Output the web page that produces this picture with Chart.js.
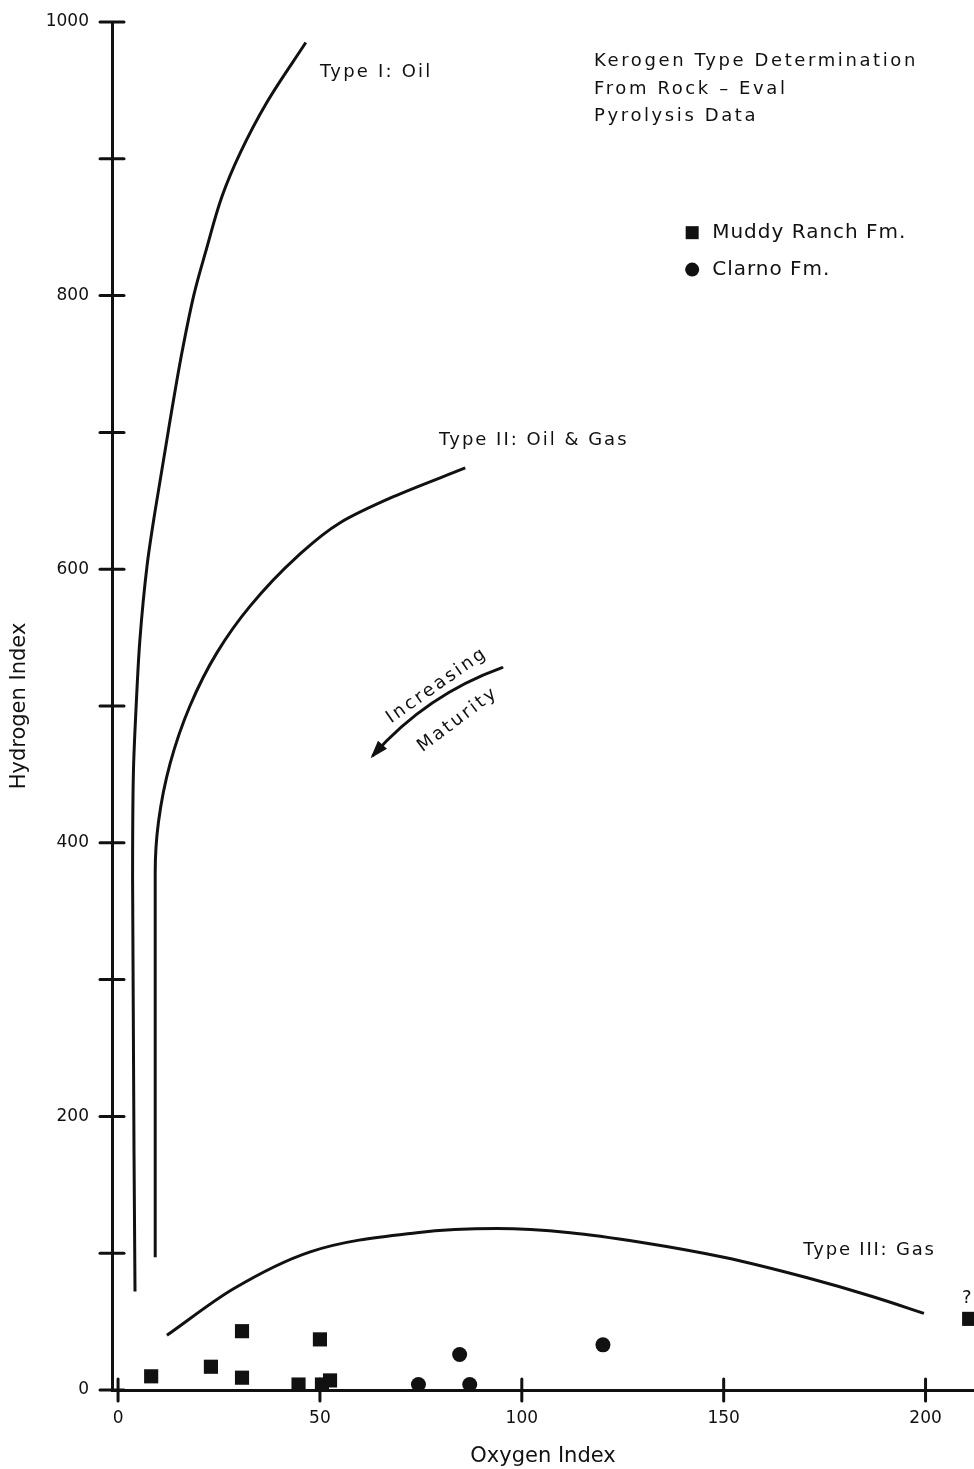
<!DOCTYPE html>
<html>
<head>
<meta charset="utf-8">
<title>Kerogen Type Determination</title>
<script src="https://cdn.jsdelivr.net/npm/chart.js@4.4.1/dist/chart.umd.min.js"></script>
<style>
  html, body { margin: 0; padding: 0; background: #fff; overflow: hidden; }
  #wrap { width: 974px; height: 1469px; position: relative; }
</style>
</head>
<body>
<div id="wrap"><canvas id="kerogenChart"></canvas></div>
<script>
// Muddy Ranch Fm. samples (oxygen index, hydrogen index)
const muddyOI = [8.2, 23.0, 30.7, 30.7, 44.7, 50.0, 50.5, 52.5, 210.8];
const muddyHI = [10, 17, 43, 9, 4, 37, 4, 7, 52];

// Clarno Fm. samples
const clarnoOI = [74.4, 84.6, 87.1, 120.1];
const clarnoHI = [4, 26, 4, 33];

// kerogen type boundary curves
const type1OI = [46.5, 36.8, 30.2, 25.8, 21.6, 18.9, 15.8, 12.5, 9.2, 7.2, 5.4, 4.5, 3.8, 3.6, 4.2];
const type1HI = [985, 941, 904, 873, 831, 802, 758, 702, 643, 603, 548, 501, 451, 373, 72];
const type2OI = [86.0, 68.2, 55.0, 44.3, 32.7, 24.5, 17.8, 12.9, 10.0, 9.2, 9.2];
const type2HI = [674, 653, 634, 609, 573, 539, 500, 458, 415, 378, 97];
const type3OI = [12.1, 28.6, 47.6, 74.0, 93.9, 112, 129.4, 150, 170.7, 187.2, 199.6];
const type3HI = [40, 74, 101, 115, 118, 115, 108, 97, 82, 68, 56];

// axis ticks
const xTicks = [0, 50, 100, 150, 200];
const yTicks = [0, 100, 200, 300, 400, 500, 600, 700, 800, 900, 1000];

const INK = '#111';
const FONT = "'DejaVu Sans', sans-serif";

const toPoints = (xs, ys) => xs.map((v, i) => ({ x: v, y: ys[i] }));

// boundary curve; the two steep ones are interpolated along the y axis
function curve(label, xs, ys, alongY) {
  const ds = {
    label: label,
    data: toPoints(xs, ys),
    showLine: true,
    borderColor: INK,
    borderWidth: 3,
    pointRadius: 0,
    fill: false,
    cubicInterpolationMode: 'monotone'
  };
  if (alongY) ds.indexAxis = 'y';
  return ds;
}

// text notes placed in data units
const notes = [
  { text: 'Type I: Oil', x: 50.0, y: 963, size: 18, spacing: 2.2 },
  { text: 'Kerogen Type Determination', x: 117.9, y: 971, size: 18, spacing: 2.6 },
  { text: 'From Rock \u2013 Eval', x: 117.9, y: 951, size: 18, spacing: 2.6 },
  { text: 'Pyrolysis Data', x: 117.9, y: 931, size: 18, spacing: 2.6 },
  { text: 'Type II: Oil & Gas', x: 79.5, y: 694, size: 18, spacing: 2.0 },
  { text: 'Type III: Gas', x: 169.7, y: 102, size: 18, spacing: 1.8 },
  { text: '?', x: 209.0, y: 67, size: 18, spacing: 0 }
];

const notesPlugin = {
  id: 'kerogenNotes',
  afterDraw(chart) {
    const { ctx, scales: { x, y }, chartArea } = chart;
    ctx.save();
    ctx.fillStyle = INK;
    ctx.strokeStyle = INK;

    // tick marks crossing the axes
    ctx.lineWidth = 3;
    ctx.lineCap = 'round';
    yTicks.forEach(v => {
      const py = y.getPixelForValue(v);
      ctx.beginPath();
      ctx.moveTo(chartArea.left - 12, py);
      ctx.lineTo(chartArea.left + 12, py);
      ctx.stroke();
    });
    xTicks.forEach(v => {
      const px = x.getPixelForValue(v);
      ctx.beginPath();
      ctx.moveTo(px, chartArea.bottom - 11);
      ctx.lineTo(px, chartArea.bottom + 11);
      ctx.stroke();
    });

    // labels
    ctx.textBaseline = 'middle';
    ctx.textAlign = 'left';
    notes.forEach(n => {
      ctx.font = n.size + 'px ' + FONT;
      ctx.letterSpacing = n.spacing + 'px';
      ctx.fillText(n.text, x.getPixelForValue(n.x), y.getPixelForValue(n.y));
    });

    // legend
    ctx.letterSpacing = '1px';
    ctx.font = '20px ' + FONT;
    const lx = x.getPixelForValue(142.2);
    const ly1 = y.getPixelForValue(846);
    const ly2 = y.getPixelForValue(819);
    ctx.fillRect(lx - 6.5, ly1 - 6.5, 13, 13);
    ctx.beginPath();
    ctx.arc(lx, ly2, 7, 0, Math.PI * 2);
    ctx.fill();
    ctx.fillText('Muddy Ranch Fm.', lx + 20, ly1);
    ctx.fillText('Clarno Fm.', lx + 20, ly2);

    // maturity arrow
    const p0 = { x: x.getPixelForValue(95.1), y: y.getPixelForValue(528) };
    const p1 = { x: x.getPixelForValue(63.2), y: y.getPixelForValue(464) };
    const dx = p1.x - p0.x, dy = p1.y - p0.y;
    const len = Math.hypot(dx, dy);
    const c = { x: (p0.x + p1.x) / 2 + 20 * (-dy / len), y: (p0.y + p1.y) / 2 + 20 * (dx / len) };
    if (c.y > (p0.y + p1.y) / 2) { c.x = (p0.x + p1.x) - c.x; c.y = (p0.y + p1.y) - c.y; }
    ctx.lineWidth = 3;
    ctx.beginPath();
    ctx.moveTo(p0.x, p0.y);
    ctx.quadraticCurveTo(c.x, c.y, p1.x, p1.y);
    ctx.stroke();
    const ang = Math.atan2(p1.y - c.y, p1.x - c.x);
    ctx.beginPath();
    ctx.moveTo(p1.x + 4 * Math.cos(ang), p1.y + 4 * Math.sin(ang));
    ctx.lineTo(p1.x - 14 * Math.cos(ang) + 6 * Math.sin(ang), p1.y - 14 * Math.sin(ang) - 6 * Math.cos(ang));
    ctx.lineTo(p1.x - 14 * Math.cos(ang) - 6 * Math.sin(ang), p1.y - 14 * Math.sin(ang) + 6 * Math.cos(ang));
    ctx.closePath();
    ctx.fill();

    ctx.font = '18px ' + FONT;
    ctx.letterSpacing = '2.6px';
    ctx.textAlign = 'center';
    [['Increasing', 79.0, 515, -35], ['Maturity', 84.2, 490, -37]].forEach(([t, vx, vy, deg]) => {
      ctx.save();
      ctx.translate(x.getPixelForValue(vx), y.getPixelForValue(vy));
      ctx.rotate(deg * Math.PI / 180);
      ctx.fillText(t, 0, 0);
      ctx.restore();
    });
    ctx.restore();
  }
};

new Chart(document.getElementById('kerogenChart'), {
  type: 'scatter',
  data: {
    datasets: [
      {
        label: 'Muddy Ranch Fm.',
        data: toPoints(muddyOI, muddyHI),
        pointStyle: 'rect',
        pointRadius: 10,
        backgroundColor: INK,
        borderWidth: 0,
        clip: false
      },
      {
        label: 'Clarno Fm.',
        data: toPoints(clarnoOI, clarnoHI),
        pointStyle: 'circle',
        pointRadius: 7.5,
        backgroundColor: INK,
        borderWidth: 0,
        clip: false
      },
      curve('Type I: Oil', type1OI, type1HI, true),
      curve('Type II: Oil & Gas', type2OI, type2HI, true),
      curve('Type III: Gas', type3OI, type3HI, false)
    ]
  },
  options: {
    responsive: true,
    maintainAspectRatio: false,
    animation: false,
    layout: { autoPadding: false, padding: { top: 22, right: 0, left: 0, bottom: 0 } },
    plugins: {
      legend: { display: false },
      tooltip: { enabled: false }
    },
    scales: {
      x: {
        type: 'linear',
        min: -1.5,
        max: 212,
        afterBuildTicks: scale => { scale.ticks = xTicks.map(v => ({ value: v })); },
        afterFit: scale => {
          scale.height = 79;
          scale.paddingLeft = 0;
          scale.paddingRight = 0;
        },
        grid: { display: false, drawTicks: false },
        border: { display: true, color: INK, width: 3 },
        ticks: { color: INK, font: { family: FONT, size: 17 }, padding: 18, maxRotation: 0 },
        title: {
          display: true,
          text: 'Oxygen Index',
          color: INK,
          font: { family: FONT, size: 21 },
          padding: { top: 4, bottom: 0 }
        }
      },
      y: {
        type: 'linear',
        min: 0,
        max: 1000,
        afterBuildTicks: scale => { scale.ticks = yTicks.map(v => ({ value: v })); },
        afterFit: scale => {
          scale.width = 112;
          scale.paddingTop = 0;
          scale.paddingBottom = 0;
        },
        grid: { display: false, drawTicks: false },
        border: { display: true, color: INK, width: 3 },
        ticks: {
          color: INK,
          font: { family: FONT, size: 17 },
          padding: 23,
          callback: v => (v % 200 === 0 ? v : '')
        },
        title: {
          display: true,
          text: 'Hydrogen Index',
          color: INK,
          font: { family: FONT, size: 21 },
          padding: { top: 7, bottom: 0 }
        }
      }
    }
  },
  plugins: [notesPlugin]
});
</script>
</body>
</html>
